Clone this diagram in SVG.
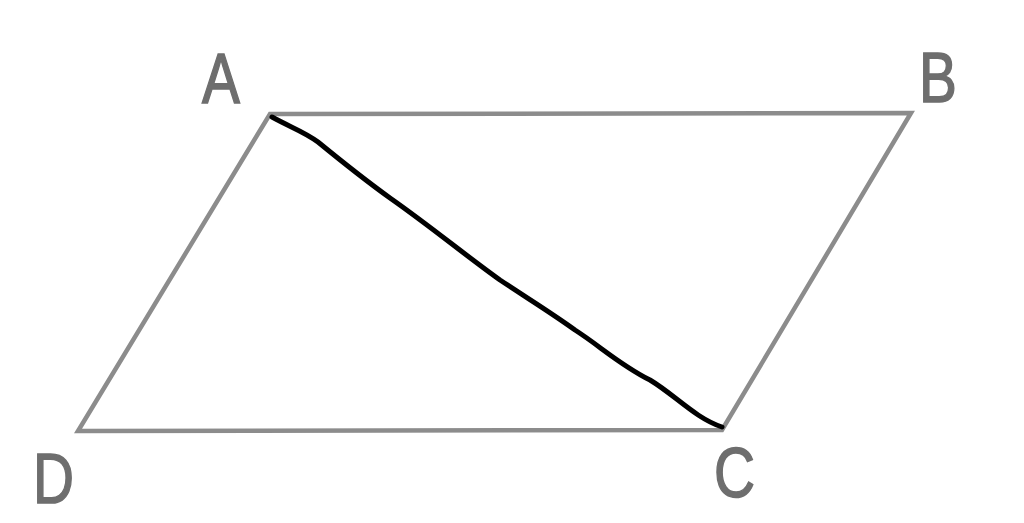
<svg xmlns="http://www.w3.org/2000/svg" width="1024" height="523" viewBox="0 0 1024 523">
<style>
.edge{fill:none;stroke:#8c8c8c;stroke-width:4.5;stroke-linejoin:miter}
.diag{fill:none;stroke:#000;stroke-width:5;stroke-linecap:round;stroke-linejoin:round}
.lbl{font-family:"Liberation Sans",Arial,sans-serif;font-size:71px;fill:#6e6e6e;stroke:#6e6e6e;stroke-width:1.5}
</style>
<rect width="1024" height="523" fill="#fff"/>
<g id="connectors">
<polygon class="edge" points="270,114 911,113 722,430 78,431"/>
<path class="diag" d="M272,117 C290,127 305,132 318,142 C340,160 365,180 390,198 C430,226 465,255 500,280 C530,300 550,312 575,330 C600,346 620,365 650,380 C675,395 695,418 722,427"/>
</g>
<g id="A"><text class="lbl" transform="translate(202,103) scale(0.8,1)">A</text></g>
<g id="B"><text class="lbl" transform="translate(919,102) scale(0.8,1)">B</text></g>
<g id="D"><text class="lbl" transform="translate(33,503) scale(0.8,1)">D</text></g>
<g id="C"><text class="lbl" transform="translate(714,497) scale(0.8,1)">C</text></g>
</svg>
